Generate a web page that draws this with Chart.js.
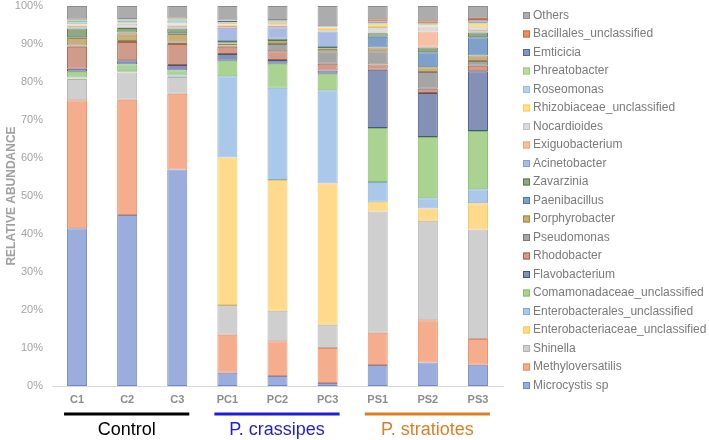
<!DOCTYPE html>
<html>
<head>
<meta charset="utf-8">
<title>Relative abundance</title>
<script src="https://cdn.jsdelivr.net/npm/chart.js@4.4.1/dist/chart.umd.min.js"></script>
<style>
    html, body { margin: 0; padding: 0; background: #fff; }
    #wrap { width: 709px; height: 440px; position: relative; }
</style>
</head>
<body>
<div id="wrap"><canvas id="abundanceChart" width="709" height="440"></canvas></div>
<script>
// samples and treatment groups
const samples = ['C1', 'C2', 'C3', 'PC1', 'PC2', 'PC3', 'PS1', 'PS2', 'PS3'];
const groupNames = ['Control', 'P. crassipes', 'P. stratiotes'];
const groupSize = 3;

// relative abundance (%) per sample, bottom of stack first
const microcystis        = [41.5, 45.0, 57.0, 3.5, 2.6, 0.8, 5.5, 6.2, 5.6];
const methyloversatilis  = [33.7, 30.3, 19.9, 10.0, 9.2, 9.2, 8.5, 11.1, 6.8];
const shinella           = [5.6, 7.2, 4.4, 7.8, 8.0, 6.1, 31.9, 26.2, 28.8];
const enterobacteriaceae = [0.1, 0.1, 0.1, 38.8, 34.4, 37.2, 2.6, 3.2, 6.9];
const enterobacterales   = [0.3, 0.2, 0.3, 21.4, 24.3, 24.5, 5.2, 2.7, 3.7];
const comamonadaceae     = [1.5, 1.8, 1.3, 4.1, 6.3, 4.4, 14.2, 16.1, 15.3];
const flavobacterium     = [0.8, 1.1, 1.5, 1.8, 1.0, 0.8, 15.3, 11.6, 15.7];
const rhodobacter        = [5.8, 4.8, 5.5, 1.9, 2.3, 1.8, 1.4, 1.1, 1.5];
const pseudomonas        = [0.3, 0.3, 0.3, 0.3, 1.9, 3.3, 3.5, 4.4, 1.2];
const porphyrobacter     = [2.0, 2.0, 2.3, 0.5, 0.6, 0.6, 1.0, 1.3, 1.5];
const paenibacillus      = [0.2, 0.2, 0.2, 0.2, 0.2, 0.1, 2.8, 3.9, 4.8];
const zavarzinia         = [2.3, 1.2, 1.3, 0.5, 0.6, 0.4, 0.9, 1.3, 1.2];
const acinetobacter      = [0.2, 0.2, 0.2, 3.5, 3.0, 4.1, 0.2, 0.2, 0.2];
const exiguobacterium    = [0.2, 0.2, 0.2, 0.5, 0.5, 0.2, 0.2, 4.0, 0.2];
const nocardioides       = [0.3, 0.7, 0.6, 0.3, 0.3, 0.2, 1.3, 1.3, 1.0];
const rhizobiaceae       = [0.3, 0.3, 0.3, 0.4, 0.4, 0.6, 0.8, 0.3, 0.9];
const roseomonas         = [0.6, 0.5, 0.7, 0.2, 0.2, 0.1, 0.2, 0.1, 0.2];
const phreatobacter      = [0.5, 0.3, 0.4, 0.1, 0.1, 0.1, 0.1, 0.1, 0.1];
const emticicia          = [0.1, 0.1, 0.1, 0.3, 0.3, 0.1, 0.3, 0.3, 0.3];
const bacillales         = [0.1, 0.1, 0.1, 0.1, 0.1, 0.1, 0.6, 0.6, 0.7];
const others             = [3.6, 3.4, 3.3, 3.8, 3.7, 5.3, 3.5, 4.0, 3.4];

// y axis ticks
const yTickStep = 10;
const yMax = 100;

const FONT = '"Liberation Sans", Arial, Helvetica, sans-serif';

const series = [
    ['Microcystis sp', microcystis, '#9AADDC', '#7088C6'],
    ['Methyloversatilis', methyloversatilis, '#F5AE8D', '#EC8A58'],
    ['Shinella', shinella, '#CFCFCF', '#B2B2B2'],
    ['Enterobacteriaceae_unclassified', enterobacteriaceae, '#FFD98C', '#FDC64C'],
    ['Enterobacterales_unclassified', enterobacterales, '#AAC8EA', '#80AEDC'],
    ['Comamonadaceae_unclassified', comamonadaceae, '#AAD290', '#86BC64'],
    ['Flavobacterium', flavobacterium, '#8391B7', '#3F5689'],
    ['Rhodobacter', rhodobacter, '#D19B8B', '#B05E3C'],
    ['Pseudomonas', pseudomonas, '#A5A5A5', '#7A7A7A'],
    ['Porphyrobacter', porphyrobacter, '#C8AE7E', '#A6883A'],
    ['Paenibacillus', paenibacillus, '#80A0CC', '#4A76A6'],
    ['Zavarzinia', zavarzinia, '#8FA784', '#587C43'],
    ['Acinetobacter', acinetobacter, '#A9BAE5', '#839FD7'],
    ['Exiguobacterium', exiguobacterium, '#F8C0A2', '#F2A273'],
    ['Nocardioides', nocardioides, '#DADADA', '#C3C3C3'],
    ['Rhizobiaceae_unclassified', rhizobiaceae, '#FFE08C', '#FCD04E'],
    ['Roseomonas', roseomonas, '#B6D3EE', '#94BEE5'],
    ['Phreatobacter', phreatobacter, '#B8DCA3', '#99CB7B'],
    ['Emticicia', emticicia, '#8097C7', '#4968AC'],
    ['Bacillales_unclassified', bacillales, '#E6906B', '#D4682C'],
    ['Others', others, '#ACACAC', '#8C8C8C']
];

const datasets = series.map(function(s) {
    return {
        label: s[0],
        data: s[1],
        backgroundColor: s[2],
        borderColor: s[3],
        borderWidth: 1,
        borderSkipped: false,
        categoryPercentage: 1.0,
        barPercentage: 0.4
    };
});

// legend on the right, Others at the top
const sideLegend = {
    id: 'sideLegend',
    afterDraw(chart) {
        const ctx = chart.ctx;
        const sets = chart.data.datasets;
        ctx.save();
        ctx.font = '12px ' + FONT;
        ctx.textBaseline = 'middle';
        ctx.textAlign = 'left';
        for (let k = 0; k < sets.length; k++) {
            const ds = sets[sets.length - 1 - k];
            const y = 15.5 + k * 18.5;
            ctx.fillStyle = ds.backgroundColor;
            ctx.fillRect(523, y - 3.5, 7, 7);
            ctx.strokeStyle = ds.borderColor;
            ctx.lineWidth = 1;
            ctx.strokeRect(523.5, y - 3, 6, 6);
            ctx.fillStyle = '#7A7A7A';
            ctx.fillText(ds.label, 533, y);
        }
        ctx.restore();
    }
};

// group brackets and names below the x axis
const groupLabels = {
    id: 'groupLabels',
    afterDraw(chart) {
        const ctx = chart.ctx;
        const x = chart.scales.x;
        const colors = ['#000000', '#1E1ED8', '#DB7F24'];
        ctx.save();
        groupNames.forEach(function(name, g) {
            const x0 = x.getPixelForValue(g * groupSize) - 13;
            const x1 = x.getPixelForValue(g * groupSize + groupSize - 1) + 12;
            ctx.strokeStyle = colors[g];
            ctx.lineWidth = 3;
            ctx.beginPath();
            ctx.moveTo(x0, 414);
            ctx.lineTo(x1, 414);
            ctx.stroke();
            ctx.fillStyle = colors[g];
            ctx.font = '18px ' + FONT;
            ctx.textAlign = 'center';
            ctx.textBaseline = 'alphabetic';
            ctx.fillText(name, (x0 + x1) / 2, 435);
        });
        ctx.restore();
    }
};

new Chart(document.getElementById('abundanceChart').getContext('2d'), {
    type: 'bar',
    data: { labels: samples, datasets: datasets },
    options: {
        responsive: false,
        animation: false,
        layout: { padding: { top: 6, right: 206, bottom: 34, left: 0 } },
        plugins: {
            legend: { display: false },
            tooltip: { enabled: false }
        },
        scales: {
            x: {
                stacked: true,
                grid: { display: false, drawTicks: false },
                border: { display: true, color: '#D9D9D9', width: 1 },
                ticks: {
                    padding: 7,
                    color: '#8C8C8C',
                    font: { family: FONT, size: 11, weight: 'bold' }
                },
                afterFit(scale) { scale.height = 20; }
            },
            y: {
                stacked: true,
                min: 0,
                max: yMax,
                grid: { display: false, drawTicks: false },
                border: { display: false },
                ticks: {
                    stepSize: yTickStep,
                    padding: 9,
                    color: '#A3A3A3',
                    font: { family: FONT, size: 11 },
                    callback: function(v) { return v + '%'; }
                },
                title: {
                    display: true,
                    text: 'RELATIVE ABUNDANCE',
                    color: '#A0A0A0',
                    font: { family: FONT, size: 12, weight: 'bold' }
                },
                afterFit(scale) {
                    scale.width = 52;
                    scale.paddingTop = 0;
                    scale.paddingBottom = 0;
                }
            }
        }
    },
    plugins: [sideLegend, groupLabels]
});
</script>
</body>
</html>
